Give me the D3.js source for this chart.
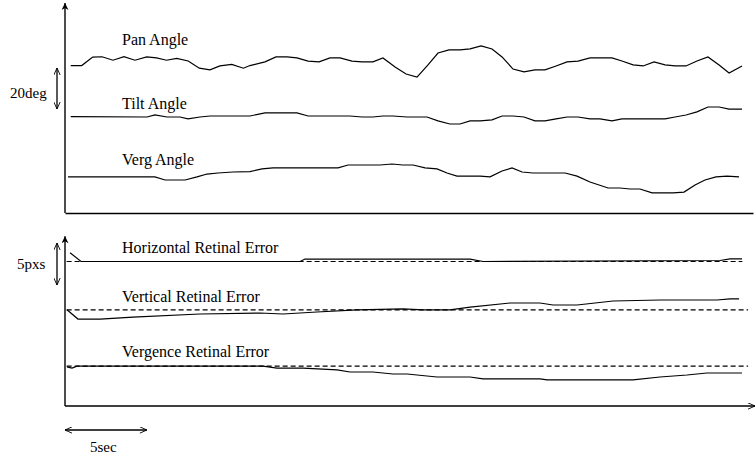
<!DOCTYPE html>
<html lang="en">

<head>
    <meta charset="UTF-8">
    <script src="https://d3js.org/d3.v7.min.js"></script>
    <title>Tracking traces</title>
    <style>
        body { margin: 0; background: #fff; }
        text { font-family: "Liberation Serif", "DejaVu Serif", serif; fill: #000; }
    </style>
</head>

<body>
    <div id="chart"></div>

    <script>
        // ---- Data (time in sec, angles in deg, errors in pixels) ----
        var panT = [0.35, 1.02, 1.69, 2.26, 2.93, 3.60, 4.27, 4.99, 5.59, 6.20, 6.82, 7.52, 8.20, 8.85, 9.46,
            10.18, 10.89, 11.29, 12.21, 12.88, 13.55, 14.16, 14.84, 15.51, 16.18, 16.79, 17.52, 18.13, 18.80,
            19.41, 20.15, 20.82, 21.49, 22.16, 22.77, 23.44, 24.11, 24.73, 25.40, 26.07, 26.68, 27.35, 28.02,
            28.69, 29.30, 29.98, 30.65, 31.32, 32.05, 33.39, 34.00, 34.68, 35.29, 35.96, 36.63, 37.24, 37.91,
            38.58, 39.25, 39.93, 40.54, 41.33];
        var panV = [71.9, 71.9, 76.0, 76.2, 74.5, 76.2, 74.5, 76.1, 75.6, 74.5, 75.4, 74.1, 70.6, 69.8, 71.7,
            72.5, 70.6, 71.9, 73.7, 76.1, 76.1, 75.6, 74.1, 73.7, 75.6, 75.6, 74.1, 73.7, 73.7,
            75.6, 71.2, 67.8, 66.3, 72.2, 78.0, 79.5, 79.5, 80.0, 81.5, 80.0, 76.1, 70.2, 68.8,
            69.8, 69.8, 71.7, 73.7, 74.1, 75.6, 75.6, 74.1, 72.2, 71.7, 73.7, 72.2, 71.7, 71.7,
            74.1, 76.1, 72.2, 68.3, 71.7];

        var tiltT = [0.35, 5.01, 5.49, 6.23, 7.02, 7.51, 8.24, 8.85, 11.29, 12.21, 14.16, 14.84, 17.40, 18.13,
            18.80, 19.41, 20.02, 20.88, 22.10, 22.77, 23.50, 24.11, 24.73, 25.34, 26.07, 26.68, 27.35, 28.02,
            28.69, 29.30, 29.98, 30.65, 31.32, 32.05, 32.66, 33.39, 34.00, 36.63, 37.24, 37.91, 38.58, 39.25,
            39.93, 40.54, 41.33];
        var tiltV = [47.0, 46.8, 47.8, 46.8, 46.8, 45.9, 46.8, 47.3, 47.3, 48.8, 48.8, 47.3, 47.3, 46.8,
            46.8, 47.3, 47.3, 46.8, 46.8, 44.9, 43.4, 43.4, 44.9, 44.9, 45.4, 47.3, 47.3, 46.8,
            44.9, 44.9, 45.9, 46.8, 46.8, 45.9, 45.9, 44.9, 45.9, 45.9, 46.8, 47.8, 49.3, 51.7,
            51.7, 50.7, 50.7];

        var vergT = [0.18, 5.49, 6.11, 7.33, 8.06, 8.67, 9.34, 10.26, 11.29, 12.03, 12.70, 16.67, 17.28, 19.23,
            19.96, 20.63, 21.25, 21.98, 22.71, 23.32, 23.93, 25.34, 25.95, 26.68, 27.29, 27.90, 28.57, 30.53,
            31.26, 32.05, 33.15, 33.88, 34.49, 35.10, 35.84, 37.12, 37.79, 38.46, 39.07, 39.74, 40.42, 41.15];
        var vergV = [17.6, 17.6, 16.1, 16.1, 17.6, 19.0, 19.5, 20.0, 20.2, 21.5, 22.0, 22.0, 23.4, 23.4,
            23.9, 23.4, 23.4, 22.0, 21.5, 19.5, 18.0, 18.0, 17.6, 20.5, 22.0, 20.0, 19.5, 19.5,
            18.0, 15.1, 12.2, 12.2, 11.7, 11.7, 9.8, 9.8, 10.2, 13.7, 16.1, 17.6, 18.0, 17.6];

        var horErrT = [0.31, 0.98, 14.35, 14.65, 24.73, 25.52, 39.99, 40.60, 41.33];
        var horErrV = [1.04, 0.0, 0.0, 0.29, 0.29, 0.0, 0.12, 0.32, 0.32];

        var verErrT = [0.12, 0.79, 2.14, 4.15, 8.24, 11.90, 13.31, 15.38, 17.83, 20.63, 21.86, 23.50, 24.73,
            27.17, 29.00, 29.79, 31.26, 33.46, 36.32, 39.80, 40.60, 41.15];
        var verErrV = [0.0, -1.1, -1.1, -0.86, -0.5, -0.38, -0.5, -0.26, 0.0, 0.1, 0.0, 0.0, 0.33,
            0.81, 0.81, 0.57, 0.57, 1.05, 1.17, 1.17, 1.29, 1.29];

        var vgErrT = [0.12, 0.43, 0.73, 12.09, 12.94, 14.53, 16.61, 17.40, 18.80, 20.02, 20.88, 22.71, 24.73,
            25.52, 29.00, 29.43, 34.68, 36.32, 37.97, 39.19, 41.33];
        var vgErrV = [-0.1, -0.23, 0.0, 0.0, -0.23, -0.23, -0.46, -0.7, -0.7, -0.94, -0.94, -1.3, -1.3,
            -1.53, -1.53, -1.65, -1.65, -1.3, -1.06, -0.82, -0.82];

        // zero-error offsets of the three error traces and where the dashed reference ends
        var errNames = ["Horizontal Retinal Error", "Vertical Retinal Error", "Vergence Retinal Error"];
        var errOffsets = [17.2, 11.45, 4.75];
        var refEnd = [41.35, 41.7, 41.7];
        var angleNames = ["Pan Angle", "Tilt Angle", "Verg Angle"];

        // ---- Setup the canvas ----
        var width = 755,
            height = 460;

        var svg = d3.select("#chart").append("svg")
            .attr("width", width)
            .attr("height", height);

        // arrow heads
        var defs = svg.append("defs");
        defs.append("marker")
            .attr("id", "filled")
            .attr("viewBox", "0 0 10 10")
            .attr("refX", 10).attr("refY", 5)
            .attr("markerWidth", 9).attr("markerHeight", 7)
            .attr("markerUnits", "userSpaceOnUse")
            .attr("orient", "auto-start-reverse")
            .append("path")
            .attr("d", "M0,0 L10,5 L0,10 L3,5 Z")
            .attr("fill", "#000");
        defs.append("marker")
            .attr("id", "open")
            .attr("viewBox", "0 0 10 10")
            .attr("refX", 10).attr("refY", 5)
            .attr("markerWidth", 9).attr("markerHeight", 7)
            .attr("markerUnits", "userSpaceOnUse")
            .attr("orient", "auto-start-reverse")
            .append("path")
            .attr("d", "M0,0.5 L10,5 L0,9.5")
            .attr("fill", "none")
            .attr("stroke", "#000")
            .attr("stroke-width", 1.3);

        // ---- Scales ----
        var xScale = d3.scaleLinear().domain([0, 42]).range([65, 753]);
        var yTop = d3.scaleLinear().domain([0, 102.4]).range([213, 3]);
        var yBot = d3.scaleLinear().domain([0, 20.2]).range([406, 236.3]);

        // ---- Axes (no ticks, just the lines) ----
        var gTopY = svg.append("g")
            .attr("transform", "translate(" + xScale(0) + ",0)")
            .call(d3.axisLeft(yTop).tickValues([]).tickSizeOuter(0));
        var gTopX = svg.append("g")
            .attr("transform", "translate(0," + yTop(0) + ")")
            .call(d3.axisBottom(xScale).tickValues([]).tickSizeOuter(0));
        var gBotY = svg.append("g")
            .attr("transform", "translate(" + xScale(0) + ",0)")
            .call(d3.axisLeft(yBot).tickValues([]).tickSizeOuter(0));
        var gBotX = svg.append("g")
            .attr("transform", "translate(0," + yBot(0) + ")")
            .call(d3.axisBottom(xScale.copy().range([65, 755])).tickValues([]).tickSizeOuter(0));

        svg.selectAll(".domain")
            .attr("stroke", "#000")
            .attr("stroke-width", 1.4);
        gTopY.select(".domain").attr("marker-end", "url(#filled)");
        gBotY.select(".domain").attr("marker-end", "url(#filled)");
        gBotX.select(".domain").attr("marker-end", "url(#open)");
        // axisLeft draws bottom->top when range is reversed; make sure arrow is at the top
        [gTopY, gBotY].forEach(function (g) {
            var s = g.select(".domain");
            var r = (g === gTopY ? yTop : yBot).range();
            s.attr("d", "M0," + r[0] + "V" + r[1]);
        });
        gBotX.select(".domain").attr("d", "M65,0H755");

        // ---- Angle traces ----
        var angleSeries = [
            { t: panT, v: panV },
            { t: tiltT, v: tiltV },
            { t: vergT, v: vergV }
        ];
        var angleLine = d3.line()
            .x(function (d) { return xScale(d[0]); })
            .y(function (d) { return yTop(d[1]); });

        svg.selectAll("path.angle")
            .data(angleSeries)
            .enter()
            .append("path")
            .attr("class", "angle")
            .attr("d", function (s) {
                return angleLine(d3.zip(s.t, s.v));
            })
            .attr("fill", "none")
            .attr("stroke", "#000")
            .attr("stroke-width", 1.2);

        var angleLabelY = [45, 109, 165];
        svg.selectAll("text.angle")
            .data(angleNames)
            .enter()
            .append("text")
            .attr("class", "angle")
            .attr("x", 122)
            .attr("y", function (d, i) { return angleLabelY[i]; })
            .attr("font-size", "16px")
            .text(function (d) { return d; });

        // ---- Retinal error traces ----
        var errSeries = [
            { t: horErrT, v: horErrV },
            { t: verErrT, v: verErrV },
            { t: vgErrT, v: vgErrV }
        ];

        // dashed zero reference lines
        svg.selectAll("line.ref")
            .data(errOffsets)
            .enter()
            .append("line")
            .attr("class", "ref")
            .attr("x1", xScale(0.1))
            .attr("x2", function (d, i) { return xScale(refEnd[i]); })
            .attr("y1", function (d) { return yBot(d); })
            .attr("y2", function (d) { return yBot(d); })
            .attr("stroke", "#000")
            .attr("stroke-width", 1.2)
            .attr("stroke-dasharray", "5,3");

        svg.selectAll("path.err")
            .data(errSeries)
            .enter()
            .append("path")
            .attr("class", "err")
            .attr("d", function (s, i) {
                var line = d3.line()
                    .x(function (d) { return xScale(d[0]); })
                    .y(function (d) { return yBot(errOffsets[i] + d[1]); });
                return line(d3.zip(s.t, s.v));
            })
            .attr("fill", "none")
            .attr("stroke", "#000")
            .attr("stroke-width", 1.2);

        var errLabelY = [253, 302, 357];
        svg.selectAll("text.err")
            .data(errNames)
            .enter()
            .append("text")
            .attr("class", "err")
            .attr("x", 122)
            .attr("y", function (d, i) { return errLabelY[i]; })
            .attr("font-size", "16px")
            .text(function (d) { return d; });

        // ---- Scale bars ----
        function scaleBar(x1, y1, x2, y2) {
            svg.append("line")
                .attr("x1", x1).attr("y1", y1)
                .attr("x2", x2).attr("y2", y2)
                .attr("stroke", "#000")
                .attr("stroke-width", 1.3)
                .attr("marker-start", "url(#open)")
                .attr("marker-end", "url(#open)");
        }
        scaleBar(57, yTop(50.7), 57, yTop(70.7));
        scaleBar(57, yBot(14.4), 57, yBot(19.4));
        scaleBar(xScale(0), 430, xScale(5), 430);

        svg.append("text").attr("x", 10).attr("y", 98).attr("font-size", "15px").text("20deg");
        svg.append("text").attr("x", 17).attr("y", 269).attr("font-size", "15px").text("5pxs");
        svg.append("text").attr("x", 90).attr("y", 452).attr("font-size", "15px").text("5sec");
    </script>
</body>

</html>
